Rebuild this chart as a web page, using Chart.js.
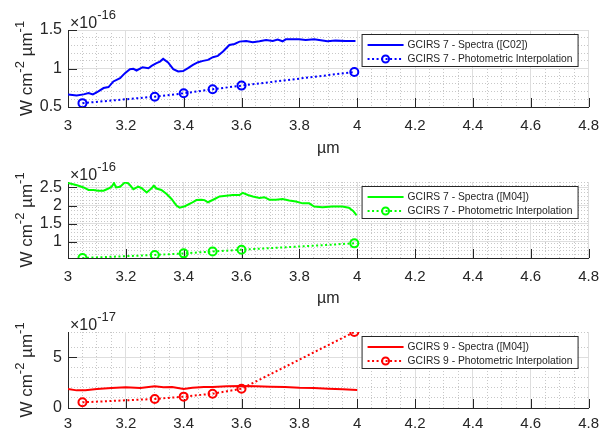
<!DOCTYPE html>
<html lang="en">
<head>
  <meta charset="UTF-8" />
  <title>GCIRS 7 / GCIRS 9 – spectra vs photometric interpolation</title>
  <script src="https://cdn.jsdelivr.net/npm/chart.js"></script>
  <style>
    body {
      margin: 0;
      background: #fff;
    }
    canvas {
      position: absolute;
      left: 0;
    }
    #p1 { top: 0; }
    #p2 { top: 150px; }
    #p3 { top: 300px; }
  </style>
</head>
<body>
  <canvas id="p1" width="603" height="160"></canvas>
  <canvas id="p2" width="603" height="160"></canvas>
  <canvas id="p3" width="603" height="133"></canvas>

  <script>
    // wavelength axis (µm)
    const xTicks = [3, 3.2, 3.4, 3.6, 3.8, 4, 4.2, 4.4, 4.6, 4.8];

    // photometric band centres (µm)
    const photX = [3.05, 3.3, 3.4, 3.5, 3.6, 3.99];

    // GCIRS 7, photometric interpolation (x 1e-16 W cm-2 µm-1)
    const g7Phot = [0.55, 0.634, 0.678, 0.73, 0.778, 0.955];

    // GCIRS 7 spectrum [C02] (x 1e-16)
    const c02X = [3.0, 3.03, 3.054, 3.071, 3.086, 3.105, 3.123, 3.14, 3.157, 3.18, 3.197, 3.214, 3.226,
      3.237, 3.258, 3.278, 3.289, 3.306, 3.318, 3.329, 3.346, 3.364, 3.381, 3.398, 3.415, 3.432, 3.45,
      3.467, 3.484, 3.501, 3.518, 3.536, 3.558, 3.576, 3.593, 3.616, 3.639, 3.662, 3.685, 3.708, 3.725,
      3.742, 3.753, 3.799, 3.822, 3.851, 3.874, 3.897, 3.925, 3.96, 3.994];
    const c02Y = [0.664, 0.651, 0.664, 0.681, 0.664, 0.703, 0.746, 0.759, 0.832, 0.875, 0.94, 0.991, 0.996,
      0.974, 1.017, 1.004, 1.034, 1.069, 1.09, 1.125, 1.078, 0.991, 0.961, 0.966, 1.004, 1.047, 1.082,
      1.099, 1.112, 1.147, 1.164, 1.22, 1.306, 1.319, 1.349, 1.358, 1.34, 1.353, 1.371, 1.358, 1.375,
      1.353, 1.379, 1.379, 1.371, 1.379, 1.366, 1.353, 1.362, 1.358, 1.358];

    // GCIRS 7 spectrum [M04] (x 1e-16)
    const m04g7X = [3.0, 3.031, 3.054, 3.071, 3.088, 3.105, 3.123, 3.14, 3.151, 3.159, 3.166, 3.18, 3.197,
      3.209, 3.226, 3.243, 3.255, 3.272, 3.289, 3.297, 3.306, 3.323, 3.341, 3.358, 3.375, 3.386, 3.404,
      3.427, 3.444, 3.461, 3.472, 3.484, 3.507, 3.524, 3.547, 3.57, 3.593, 3.604, 3.622, 3.639, 3.662,
      3.679, 3.696, 3.719, 3.742, 3.765, 3.788, 3.811, 3.834, 3.851, 3.88, 3.914, 3.948, 3.971, 3.986, 3.998];
    const m04g7Y = [2.62, 2.56, 2.5, 2.43, 2.43, 2.41, 2.41, 2.47, 2.52, 2.62, 2.5, 2.52, 2.64,
      2.61, 2.45, 2.52, 2.48, 2.36, 2.48, 2.545, 2.47, 2.43, 2.32, 2.18, 2.0, 1.94, 1.98,
      2.07, 2.15, 2.16, 2.15, 2.09, 2.18, 2.25, 2.27, 2.29, 2.29, 2.35, 2.29, 2.25, 2.21,
      2.23, 2.16, 2.16, 2.18, 2.14, 2.11, 2.06, 2.06, 1.97, 1.955, 1.97, 1.97, 1.94, 1.85, 1.73];

    // GCIRS 9 spectrum [M04] and photometry (x 1e-17)
    const m04g9X = [3.0, 3.03, 3.06, 3.1, 3.15, 3.2, 3.25, 3.3, 3.33, 3.36, 3.4, 3.43, 3.47, 3.5,
      3.55, 3.6, 3.65, 3.7, 3.75, 3.8, 3.85, 3.9, 3.95, 4.0];
    const m04g9Y = [1.875, 1.74, 1.74, 1.87, 1.97, 2.04, 1.97, 2.14, 2.04, 2.07, 1.87, 2.0, 2.07, 2.07,
      2.14, 2.17, 2.14, 2.1, 2.07, 2.0, 1.97, 1.9, 1.84, 1.78];
    const g9Phot = [0.56, 0.89, 1.12, 1.41, 1.9, 7.5];

    const yTicks1 = [0.5, 1, 1.5];
    const yTicks2 = [1, 1.5, 2, 2.5];
    const yTicks3 = [0, 5];

    const FONT = "'Liberation Sans', Arial, Helvetica, sans-serif";
    const INK = '#262626';

    const pts = (xs, ys) => xs.map((x, i) => ({ x: x, y: ys[i] }));

    // MATLAB-ish extras: inner ticks, exponent label, y label with superscripts, boxed legend
    const decor = {
      id: 'decor',
      beforeDatasetsDraw(chart) {
        const { ctx, chartArea: a, scales } = chart;
        ctx.save();
        ctx.strokeStyle = INK;
        ctx.lineWidth = 1;
        ctx.beginPath();
        scales.x.ticks.forEach(t => {
          const px = Math.round(scales.x.getPixelForValue(t.value)) + 0.5;
          ctx.moveTo(px, a.bottom);
          ctx.lineTo(px, a.bottom - 9);
        });
        scales.y.ticks.forEach(t => {
          const py = Math.round(scales.y.getPixelForValue(t.value)) + 0.5;
          ctx.moveTo(a.left, py);
          ctx.lineTo(a.left + 9, py);
        });
        ctx.stroke();
        ctx.restore();
      },
      afterDraw(chart, args, o) {
        const { ctx, chartArea: a } = chart;
        ctx.save();
        ctx.fillStyle = INK;
        ctx.textAlign = 'left';
        ctx.textBaseline = 'alphabetic';

        // x10^n
        ctx.font = `16px ${FONT}`;
        ctx.fillText('\u00d710', a.left + 2, a.top - 2);
        const w10 = ctx.measureText('\u00d710').width;
        ctx.font = `13px ${FONT}`;
        ctx.fillText(o.exp, a.left + 2 + w10, a.top - 11);

        // y label
        const size = 17, sup = 13;
        const parts = [
          { t: 'W cm', s: size }, { t: '-2', s: sup, up: true },
          { t: ' \u00b5m', s: size }, { t: '-1', s: sup, up: true }
        ];
        let total = 0;
        parts.forEach(p => { ctx.font = `${p.s}px ${FONT}`; p.w = ctx.measureText(p.t).width; total += p.w; });
        ctx.save();
        ctx.translate(32, (a.top + a.bottom) / 2);
        ctx.rotate(-Math.PI / 2);
        let x = -total / 2;
        parts.forEach(p => {
          ctx.font = `${p.s}px ${FONT}`;
          ctx.fillText(p.t, x, p.up ? -8 : 0);
          x += p.w;
        });
        ctx.restore();

        // legend box
        const bx = a.right - 227, by = a.top + 4, bw = 216, bh = 32;
        ctx.fillStyle = '#fff';
        ctx.fillRect(bx, by, bw, bh);
        ctx.strokeStyle = INK;
        ctx.lineWidth = 1;
        ctx.strokeRect(bx + 0.5, by + 0.5, bw, bh);
        chart.data.datasets.forEach((ds, i) => {
          const y = by + 11 + i * 14;
          ctx.strokeStyle = ds.borderColor;
          ctx.lineWidth = 2;
          ctx.setLineDash(ds.borderDash || []);
          ctx.beginPath();
          ctx.moveTo(bx + 6, y);
          ctx.lineTo(bx + 42, y);
          ctx.stroke();
          ctx.setLineDash([]);
          if (ds.pointRadius > 0) {
            ctx.beginPath();
            ctx.arc(bx + 24, y, 3.5, 0, Math.PI * 2);
            ctx.stroke();
          }
          ctx.fillStyle = INK;
          ctx.font = `10.3px ${FONT}`;
          ctx.textBaseline = 'middle';
          ctx.fillText(ds.label, bx + 46, y);
        });
        ctx.restore();
      }
    };

    function makePanel(id, p) {
      const canvas = document.getElementById(id);
      const axisH = canvas.height - p.plotBottom;
      return new Chart(canvas.getContext('2d'), {
        type: 'line',
        data: {
          datasets: [
            {
              label: p.specLabel,
              data: pts(p.specX, p.specY),
              borderColor: p.color,
              borderWidth: 2,
              pointRadius: 0,
              tension: 0
            },
            {
              label: p.photLabel,
              data: pts(photX, p.photY),
              borderColor: p.color,
              borderWidth: 2,
              borderDash: [2, 2.5],
              pointRadius: 4,
              pointBorderWidth: 2,
              pointBackgroundColor: 'rgba(0,0,0,0)',
              pointBorderColor: p.color,
              tension: 0
            }
          ]
        },
        options: {
          responsive: false,
          animation: false,
          events: [],
          layout: { padding: { top: p.padTop, right: 13, left: 0, bottom: 0 } },
          plugins: {
            legend: { display: false },
            tooltip: { enabled: false },
            decor: { exp: p.exp }
          },
          scales: {
            xm: {
              type: 'linear', position: 'bottom', min: 3, max: 4.8, z: -1,
              ticks: { display: false, stepSize: 0.05 },
              grid: { color: '#c8c8c8', drawTicks: false },
              border: { display: false, dash: [1, 2] },
              afterFit: s => { s.height = 0; }
            },
            ym: {
              type: 'linear', position: 'left', min: p.yMin, max: p.yMax, z: -1,
              ticks: { display: false, stepSize: p.yMinor },
              grid: { color: '#c8c8c8', drawTicks: false },
              border: { display: false, dash: [1, 2] },
              afterFit: s => { s.width = 0; }
            },
            x: {
              type: 'linear', position: 'bottom', min: 3, max: 4.8,
              afterBuildTicks: s => { s.ticks = xTicks.map(v => ({ value: v })); },
              afterFit: s => { s.height = axisH; },
              // invisible outer tick just to push the labels down
              grid: { color: '#dedede', drawTicks: true, tickLength: p.tickGap, tickColor: 'rgba(0,0,0,0)' },
              border: { color: INK, width: 1 },
              ticks: {
                color: INK, padding: 4, maxRotation: 0, autoSkip: false,
                font: { family: FONT, size: 15 },
                callback: v => String(+v.toFixed(2))
              },
              title: {
                display: !!p.xTitle, text: p.xTitle, color: INK,
                font: { family: FONT, size: 16 },
                padding: { top: 0, bottom: 2 }
              }
            },
            y: {
              type: 'linear', position: 'left', min: p.yMin, max: p.yMax,
              afterBuildTicks: s => { s.ticks = p.yTicks.map(v => ({ value: v })); },
              afterFit: s => { s.width = 68; },
              grid: { color: '#dedede', drawTicks: false },
              border: { color: INK, width: 1 },
              ticks: {
                color: INK, padding: 6,
                font: { family: FONT, size: 16 },
                callback: v => String(+v.toFixed(2))
              }
            }
          }
        },
        plugins: [decor]
      });
    }

    makePanel('p1', {
      color: '#0000ff', specX: c02X, specY: c02Y, photY: g7Phot,
      specLabel: 'GCIRS 7 - Spectra ([C02])', photLabel: 'GCIRS 7 - Photometric Interpolation',
      yMin: 0.5, yMax: 1.5, yTicks: yTicks1, yMinor: 0.1, exp: '-16',
      padTop: 30, plotBottom: 107, xTitle: '\u00b5m', tickGap: 6
    });

    makePanel('p2', {
      color: '#00ff00', specX: m04g7X, specY: m04g7Y, photY: g7Phot,
      specLabel: 'GCIRS 7 - Spectra ([M04])', photLabel: 'GCIRS 7 - Photometric Interpolation',
      yMin: 0.55, yMax: 2.65, yTicks: yTicks2, yMinor: 0.1, exp: '-16',
      padTop: 32, plotBottom: 108, xTitle: '\u00b5m', tickGap: 6
    });

    makePanel('p3', {
      color: '#ff0000', specX: m04g9X, specY: m04g9Y, photY: g9Phot,
      specLabel: 'GCIRS 9 - Spectra ([M04])', photLabel: 'GCIRS 9 - Photometric Interpolation',
      yMin: 0, yMax: 7.5, yTicks: yTicks3, yMinor: 1, exp: '-17',
      padTop: 32, plotBottom: 108, xTitle: '', tickGap: 3
    });
  </script>
</body>
</html>
